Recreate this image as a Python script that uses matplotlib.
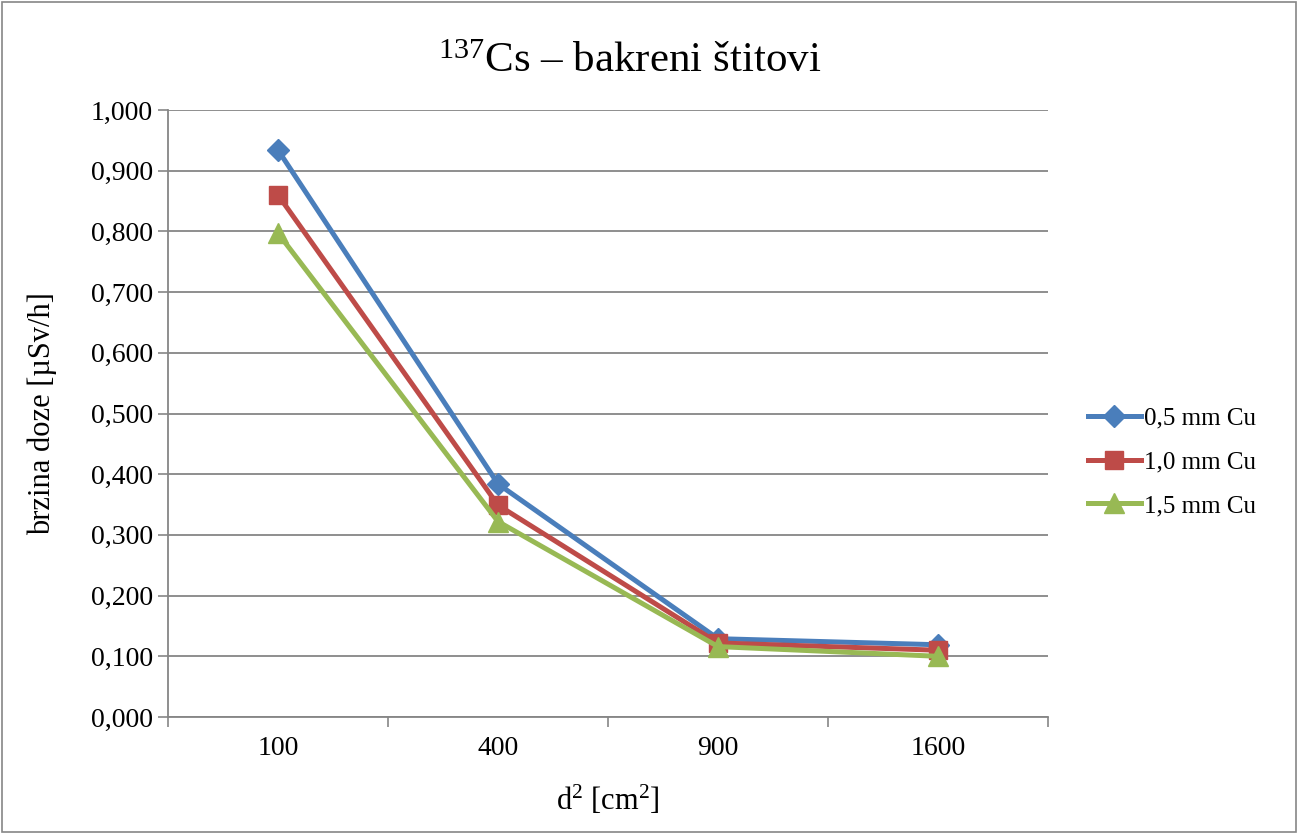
import matplotlib
matplotlib.use("Agg")
import matplotlib.pyplot as plt
from matplotlib.patches import Rectangle
from matplotlib.ticker import FuncFormatter, FixedLocator

plt.rcParams['font.family'] = ['Liberation Serif', 'DejaVu Serif']
plt.rcParams['mathtext.fontset'] = 'custom'
plt.rcParams['mathtext.rm'] = 'Liberation Serif'
plt.rcParams['mathtext.it'] = 'Liberation Serif:italic'

# data
categories = ['100', '400', '900', '1600']
series_names = ['0,5 mm Cu', '1,0 mm Cu', '1,5 mm Cu']
cu_05 = [0.934, 0.384, 0.129, 0.119]
cu_10 = [0.860, 0.349, 0.122, 0.110]
cu_15 = [0.797, 0.322, 0.116, 0.100]
y_ticks = [0.0, 0.1, 0.2, 0.3, 0.4, 0.5, 0.6, 0.7, 0.8, 0.9, 1.0]

colors = ['#4A7EBB', '#BE4B48', '#98B954']
markers = ['D', 's', '^']
msizes = [11, 13, 14]

fig = plt.figure(figsize=(12.98, 8.34), dpi=100)
ax = fig.add_axes([168/1298, 1 - 717/834, (1048-168)/1298, (717-110)/834])

x = list(range(len(categories)))
for vals, name, c, m, ms in zip([cu_05, cu_10, cu_15], series_names, colors, markers, msizes):
    ax.plot(x, vals, color=c, lw=3.6, marker=m, markersize=ms, label=name)

ax.set_xlim(-0.5, len(categories) - 0.5)
ax.set_ylim(0, 1.0)
ax.set_yticks(y_ticks)
ax.yaxis.set_major_formatter(FuncFormatter(lambda v, p: f"{v:.3f}".replace('.', ',')))
ax.set_xticks(x)
ax.set_xticklabels(categories)
ax.xaxis.set_minor_locator(FixedLocator([i - 0.5 for i in range(len(categories) + 1)]))
ax.tick_params(axis='x', which='major', length=0, labelsize=20, pad=14)
ax.tick_params(axis='x', which='minor', length=7, color='#868686', width=1.2, direction='out')
ax.tick_params(axis='y', length=7, color='#868686', width=1.2, labelsize=20, pad=4)

ax.grid(axis='y', color='#868686', lw=1.3)
ax.set_axisbelow(True)
for s in ['top', 'right']:
    ax.spines[s].set_visible(False)
for s in ['left', 'bottom']:
    ax.spines[s].set_color('#868686')
    ax.spines[s].set_linewidth(1.3)

ax.set_ylabel('brzina doze [µSv/h]', fontsize=22, labelpad=24)
ax.set_xlabel('d$^2$ [cm$^2$]', fontsize=22, labelpad=16)
fig.text(630/1298, 1 - 62/834, '$^{137}$Cs – bakreni štitovi', fontsize=31,
         ha='center', va='center')

ax.legend(loc='center left', bbox_to_anchor=(1.02, 0.42), frameon=False,
          fontsize=18, handlelength=2.1, labelspacing=0.85, handletextpad=0.15)

fig.patches.append(Rectangle((2/1298, 2/834), 1 - 4/1298, 1 - 4/834, transform=fig.transFigure,
                             fill=False, edgecolor='#868686', lw=1.2))

fig.savefig('out.png', dpi=100)
